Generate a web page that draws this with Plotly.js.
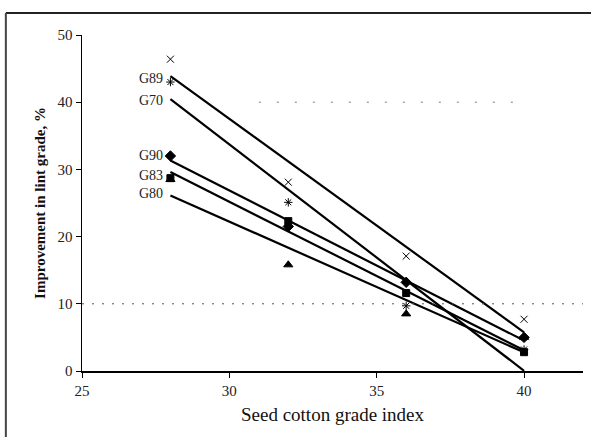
<!DOCTYPE html>
<html>
<head>
<meta charset="utf-8">
<script src="https://cdn.plot.ly/plotly-3.0.1.min.js"></script>
<style>html,body{margin:0;padding:0;background:#fff;}#chart{width:591px;height:437px;}</style>
</head>
<body>
<div id="chart"></div>
<script>
// Seed cotton grade index (x) and improvement in lint grade, % (y)
const gradeIndex = [28, 32, 36, 40];
const seriesNames = ['G89', 'G70', 'G90', 'G83', 'G80'];
const G89 = [46.4, 28.1, 17.1, 7.7];
const G70 = [43.0, 25.1, 9.7, 3.2];
const G90 = [32.0, 21.5, 13.2, 5.0];
const G83 = [28.7, 22.3, 11.6, 2.8];
const G80 = [28.5, 15.8, 8.5, 5.0];
const xTicks = [25, 30, 35, 40];
const yTicks = [0, 10, 20, 30, 40, 50];

const seriesValues = [G89, G70, G90, G83, G80];
const markerSymbols = ['x-thin-open', 'asterisk-open', 'diamond', 'square', 'triangle-up'];
const markerSizes = [7, 7, 8, 7, 8];
const labelShifts = [-2, -1, 5, -3, 2];

function fit(xs, ys) {
  const n = xs.length;
  const mx = xs.reduce((a, b) => a + b, 0) / n;
  const my = ys.reduce((a, b) => a + b, 0) / n;
  let sxy = 0, sxx = 0;
  for (let i = 0; i < n; i++) { sxy += (xs[i] - mx) * (ys[i] - my); sxx += (xs[i] - mx) ** 2; }
  const b = sxy / sxx;
  return x => my + b * (x - mx);
}

const serif = 'Liberation Serif, Times New Roman, serif';
const traces = [];
const annotations = [];
const xMin = Math.min(...gradeIndex), xMax = Math.max(...gradeIndex);
seriesValues.forEach((ys, i) => {
  const f = fit(gradeIndex, ys);
  traces.push({
    x: [xMin, xMax], y: [f(xMin), f(xMax)], mode: 'lines', type: 'scatter',
    line: {color: '#000', width: 2.2}, hoverinfo: 'skip', showlegend: false
  });
  traces.push({
    x: gradeIndex, y: ys, mode: 'markers', type: 'scatter', name: seriesNames[i],
    marker: {symbol: markerSymbols[i], size: markerSizes[i], color: '#000', line: {color: '#000', width: 1}},
    showlegend: false
  });
  annotations.push({
    x: xMin, y: f(xMin), xref: 'x', yref: 'y', text: seriesNames[i], showarrow: false,
    xanchor: 'right', yanchor: 'middle', xshift: -5, yshift: labelShifts[i],
    font: {family: serif, size: 14, color: '#222'}
  });
});

const layout = {
  width: 591, height: 437,
  margin: {l: 82, r: 8, t: 35, b: 66},
  paper_bgcolor: '#fff', plot_bgcolor: '#fff',
  showlegend: false,
  xaxis: {
    range: [25, 42], tickvals: xTicks, ticktext: xTicks.map(String),
    showgrid: false, zeroline: false, showline: true, linecolor: '#000', linewidth: 1.5,
    ticks: 'outside', ticklen: 5, tickcolor: '#000', tickwidth: 1,
    tickfont: {family: serif, size: 15, color: '#222'},
    title: {text: 'Seed cotton grade index', font: {family: serif, size: 19, color: '#111'}, standoff: 10}
  },
  yaxis: {
    range: [0, 50], tickvals: yTicks, ticktext: yTicks.map(String),
    showgrid: false, zeroline: false, showline: true, linecolor: '#000', linewidth: 1.5,
    ticks: 'outside', ticklen: 5, tickcolor: '#000', tickwidth: 1,
    tickfont: {family: serif, size: 15, color: '#222'},
    title: {text: '<b>Improvement in lint grade, %</b>', font: {family: serif, size: 15, color: '#111'}, standoff: 8}
  },
  annotations: annotations,
  shapes: [
    {type: 'line', xref: 'paper', yref: 'y', x0: 0, x1: 1, y0: 10, y1: 10,
     line: {color: '#555', width: 1, dash: '2px,8px'}},
    {type: 'line', xref: 'x', yref: 'y', x0: 31, x1: 40, y0: 40, y1: 40,
     line: {color: '#777', width: 1, dash: '2px,16px'}},
    {type: 'line', xref: 'paper', yref: 'paper', x0: -0.152, x1: 1.02, y0: 1.0655, y1: 1.0655,
     line: {color: '#222', width: 2}},
    {type: 'line', xref: 'paper', yref: 'paper', x0: -0.152, x1: -0.152, y0: 1.0655, y1: -0.2,
     line: {color: '#444', width: 2}}
  ]
};

Plotly.newPlot('chart', traces, layout, {displayModeBar: false, staticPlot: true});
</script>
</body>
</html>
